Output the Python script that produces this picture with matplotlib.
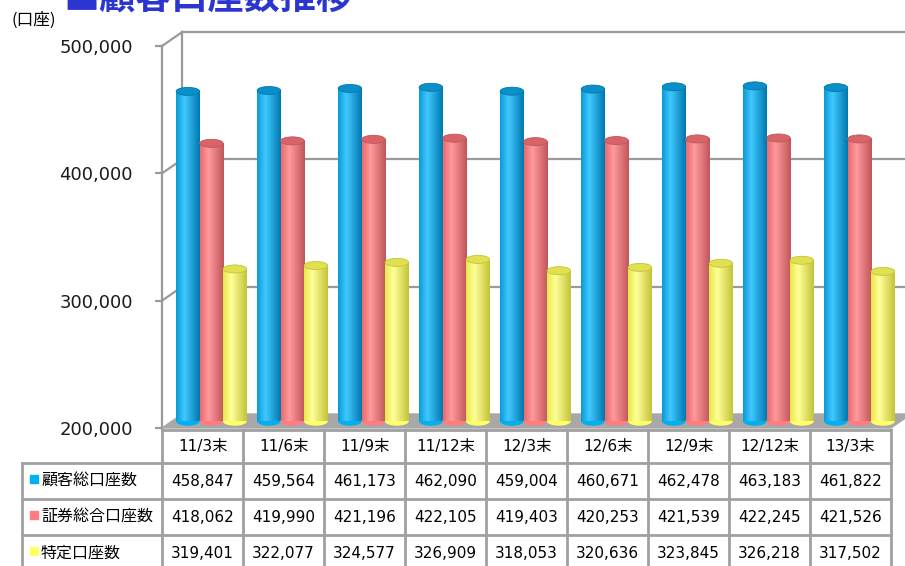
import numpy as np
import matplotlib.pyplot as plt
from matplotlib.patches import Ellipse, Rectangle, Polygon
from matplotlib.transforms import blended_transform_factory

plt.rcParams['font.family'] = ['DejaVu Sans', 'Noto Sans CJK JP']

# データ
periods = ['11/3末', '11/6末', '11/9末', '11/12末', '12/3末', '12/6末', '12/9末', '12/12末', '13/3末']
series_names = ['顧客総口座数', '証券総合口座数', '特定口座数']
kokyaku = [458847, 459564, 461173, 462090, 459004, 460671, 462478, 463183, 461822]
shoken = [418062, 419990, 421196, 422105, 419403, 420253, 421539, 422245, 421526]
tokutei = [319401, 322077, 324577, 326909, 318053, 320636, 323845, 326218, 317502]
y_ticks = [200000, 300000, 400000, 500000]

# 円柱の色 (左端, ハイライト, 右端, 上面)
styles = [
  ('#0a9ad6', '#40c8ff', '#0079b0', '#0a8fc8'),
  ('#e86a70', '#ff9a9d', '#c0565a', '#d8646a'),
  ('#e8e84a', '#ffff99', '#c4c438', '#e0e050'),
]
legend_colors = ['#00b0f0', '#ff7c80', '#ffff66']

W, H = 905, 566
fig = plt.figure(figsize=(W / 100, H / 100), dpi=100)

# 前面の軸: x 162..891 px, y 46..428 px
ax = fig.add_axes([162 / W, 1 - 428 / H, 729 / W, 382 / H])
ymin, ymax = 200000, 500000
ax.set_xlim(0, 9)
ax.set_ylim(ymin, ymax)
ax.set_facecolor('none')

DX, DY = 0.25, 11000   # 奥行き
grid_c = '#9a9a9a'

# 後ろの壁と左の壁
for v in y_ticks[1:]:
  ax.plot([DX, 9 + DX], [v + DY, v + DY], color=grid_c, lw=1.6, clip_on=False, zorder=1)
  ax.plot([0, DX], [v, v + DY], color=grid_c, lw=1.6, clip_on=False, zorder=1)
ax.plot([DX, DX], [ymin + DY, ymax + DY], color=grid_c, lw=1.6, clip_on=False, zorder=1)

# 床
floor = Polygon([(0, ymin), (9, ymin), (9 + DX, ymin + DY), (DX, ymin + DY)],
                closed=True, facecolor='#a8a8a8', edgecolor='#a8a8a8', clip_on=False, zorder=2)
ax.add_patch(floor)

# 円柱
bw = 0.29
cap_h = 6300
t = np.linspace(0, 1, 60)
for j, vals in enumerate([kokyaku, shoken, tokutei]):
  left, hi, right, cap = styles[j]
  pts = np.array([plt.matplotlib.colors.to_rgb(c) for c in (left, hi, right)])
  grad = np.zeros((1, 60, 3))
  for k in range(3):
    grad[0, :, k] = np.interp(t, [0, 0.35, 1], pts[:, k])
  for i, v in enumerate(vals):
    x0 = i + 0.05 + j * bw + DX / 2
    y0 = ymin + DY / 2
    y1 = v + DY / 2
    z = 3 + j * 0.1
    ax.add_patch(Ellipse((x0 + bw / 2, y0), bw * 0.96, cap_h, color=legend_colors[j],
                         clip_on=False, zorder=z))
    ax.imshow(grad, extent=(x0, x0 + bw, y0, y1), aspect='auto', interpolation='bilinear',
              zorder=z + 0.01, clip_on=False)
    ax.add_patch(Ellipse((x0 + bw / 2, y1), bw, cap_h, facecolor=cap, edgecolor=right,
                         lw=0.6, clip_on=False, zorder=z + 0.02))

ax.set_xlim(0, 9)
ax.set_ylim(ymin, ymax)

# 軸
for s in ['top', 'right', 'bottom']:
  ax.spines[s].set_visible(False)
ax.spines['left'].set_color(grid_c)
ax.spines['left'].set_linewidth(1.6)
ax.set_xticks([])
ax.set_yticks(y_ticks)
ax.set_yticklabels([f'{v:,}' for v in y_ticks])
ax.tick_params(axis='y', length=5, width=1.6, color=grid_c, pad=16, labelsize=13, labelcolor='#1a1a1a')

# タイトル (上端で切れている)
fig.text(63 / W, 1 - 9 / H, '■顧客口座数推移', fontsize=26, fontweight='bold', color='#2b35d0',
         family=['Noto Sans CJK JP'], va='baseline')
fig.text(11 / W, 1 - 20 / H, '(口座)', fontsize=12, va='center', family=['Noto Sans CJK JP'])

# データ表
tax = fig.add_axes([0, 0, 1, 1])
tax.set_xlim(0, W)
tax.set_ylim(H, 0)
tax.axis('off')
tr = blended_transform_factory(ax.transData, tax.transData)

lab_x = -140 / 81
rows = [430, 463, 499, 535, 571]
tc = '#a0a0a0'
tax.plot([0, 9], [rows[0], rows[0]], color=tc, lw=2, transform=tr, clip_on=False)
for r in rows[1:4]:
  tax.plot([lab_x, 9], [r, r], color=tc, lw=2, transform=tr, clip_on=False)
for i in range(10):
  tax.plot([i, i], [rows[0], rows[-1]], color=tc, lw=2, transform=tr, clip_on=False)
tax.plot([lab_x, lab_x], [rows[1], rows[-1]], color=tc, lw=2, transform=tr, clip_on=False)

for i, p in enumerate(periods):
  tax.text(i + 0.5, (rows[0] + rows[1]) / 2, p, ha='center', va='center', fontsize=11, transform=tr)

for j, vals in enumerate([kokyaku, shoken, tokutei]):
  yc = (rows[j + 1] + rows[j + 2]) / 2
  tax.add_patch(Rectangle((lab_x + 8 / 81, yc - 6), 8 / 81, 8, color=legend_colors[j], transform=tr))
  tax.text(lab_x + 19 / 81, yc, series_names[j], ha='left', va='center', fontsize=11.5,
           family=['Noto Sans CJK JP'], transform=tr)
  for i, v in enumerate(vals):
    tax.text(i + 0.5, yc, f'{v:,}', ha='center', va='center', fontsize=11, transform=tr)

fig.savefig('out.png', dpi=100)
